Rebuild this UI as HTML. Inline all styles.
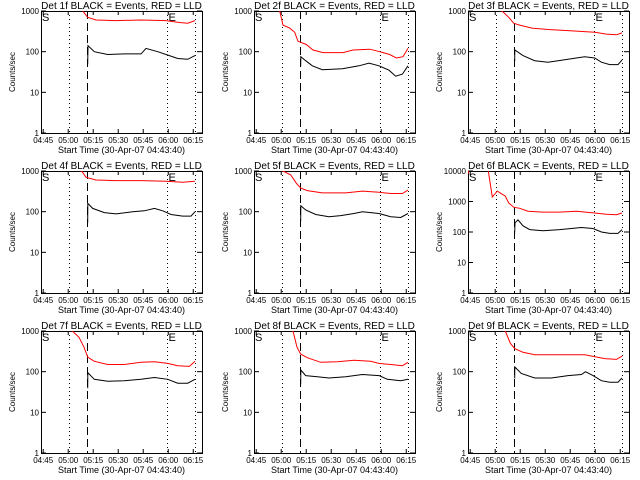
<!DOCTYPE html>
<html><head><meta charset="utf-8"><style>
html,body{margin:0;padding:0;background:#fff;}
svg{display:block;font-family:"Liberation Sans",sans-serif;}
</style></head><body>
<svg id="c" width="640" height="480" viewBox="0 0 640 480"></svg>
<script>
const detLabels = ["1f","2f","3f","4f","5f","6f","7f","8f","9f"];
const yMaxDecades = [3,3,3,3,3,4,3,3,3];
const xTickLabels = ["04:45","05:00","05:15","05:30","05:45","06:00","06:15"];
const xTickMinutes = [1.33,16.33,31.33,46.33,61.33,76.33,91.33];
const markerLines = [17,27.8,75.3,92.4];
const red1T=[0,24,25,28,33,45,60,75,83,88,92.4];
const red1V=[1500,1500,1000,700,600,580,600,580,520,500,580];
const blk1T=[27.8,28,28.2,32,40,50,60,63,70,77,82,88,92.4];
const blk1V=[50,50,140,100,85,88,88,120,100,80,68,65,80];
const red2T=[0,15.4,17.4,21.4,24.4,26.4,31.4,35.4,41.4,53.4,59.4,69.4,75.4,81.4,85.4,89.4,92.4];
const red2V=[1500,1000,450,380,300,180,150,110,95,95,110,115,100,85,70,75,120];
const blk2T=[27.8,28,28.1,31,35,41,53,63,69,75,81,85,89,92.4];
const blk2V=[45,45,75,60,45,36,38,45,52,45,35,25,28,45];
const red3T=[0,20.4,24.4,27.4,31,38.4,48,60,76,83,89,92.4];
const red3V=[1500,1000,700,500,450,380,350,330,300,270,260,290];
const blk3T=[27.8,28,28.1,33,40,48,60,70,76,80,85,90,92.4];
const blk3V=[60,60,110,80,60,55,65,75,70,55,48,48,62];
const red4T=[0,24.4,27,33,45,60,75,85,92.4];
const red4V=[1500,1000,700,600,580,580,560,530,560];
const blk4T=[27.8,28,28.1,31,38,45,55,62,68,73,78,85,90,92.4];
const blk4V=[55,55,160,120,95,88,100,105,120,105,85,78,78,100];
const red5T=[0,17.4,22,25.4,28,32,41,55,65,75,82,89,92.4];
const red5V=[1500,1000,800,500,380,330,290,290,320,300,280,280,340];
const blk5T=[27.8,28,28.1,31,37,45,52,60,65,75,82,88,92.4];
const blk5V=[60,60,140,110,85,75,80,90,100,90,75,72,90];
const red6T=[0,1,8,12.2,14.6,17.6,20,22.4,24.4,27.4,31,36,45,55,65,76,83,89,92.4];
const red6V=[8000,15000,15000,10000,1400,2200,1800,1500,900,650,600,480,450,450,480,420,380,370,420];
const blk6T=[27.8,28,28.2,30,33,37,45,55,68,75,80,85,90,92.4];
const blk6V=[100,100,200,250,160,120,110,120,140,130,100,90,90,120];
const red7T=[0,18.8,22.8,25.8,28,32,40,50,60,68,76,82,89,92.4];
const red7V=[1500,1000,700,400,230,180,150,150,170,175,160,140,135,180];
const blk7T=[27.8,28,28.1,32,40,50,60,68,76,82,88,92.4];
const blk7V=[40,40,95,65,58,60,65,72,65,52,52,65];
const red8T=[0,23.4,25.8,28,32,40,50,60,70,75,82,89,92.4];
const red8V=[1500,1000,400,270,220,170,175,190,180,160,150,140,170];
const blk8T=[27.8,28,28.1,31,38,45,55,65,75,80,88,92.4];
const blk8V=[50,50,110,80,75,70,75,85,80,65,60,65];
const red9T=[0,22.4,25.4,28,33,40,55,70,77,82,89,92.4];
const red9V=[1500,1000,500,370,300,260,260,260,230,210,200,240];
const blk9T=[27.8,28,28.1,32,40,50,60,68,70.5,75,80,85,90,92.4];
const blk9V=[70,70,130,90,70,70,80,85,100,80,60,55,55,70];
const redT=[red1T,red2T,red3T,red4T,red5T,red6T,red7T,red8T,red9T];
const redV=[red1V,red2V,red3V,red4V,red5V,red6V,red7V,red8V,red9V];
const blkT=[blk1T,blk2T,blk3T,blk4T,blk5T,blk6T,blk7T,blk8T,blk9T];
const blkV=[blk1V,blk2V,blk3V,blk4V,blk5V,blk6V,blk7V,blk8V,blk9V];

const NS="http://www.w3.org/2000/svg";
const svg=document.getElementById('c');
function mk(tag,attrs,parent){const e=document.createElementNS(NS,tag);for(const k in attrs)e.setAttribute(k,attrs[k]);parent.appendChild(e);return e;}
const defs=mk('defs',{},svg);
const W=161,H=122,TMAX=W/1.667;
for(let p=0;p<9;p++){
  const col=p%3,row=Math.floor(p/3);
  const L=Math.round(41+213.3*col),T=11+160*row;
  const nd=yMaxDecades[p];
  const xs=t=>L+t/TMAX*W;
  const ys=v=>T+H-Math.log10(v)/nd*H;
  const g=mk('g',{},svg);
  
  
  const cp=mk('clipPath',{id:'cp'+p},defs);
  mk('rect',{x:L,y:T,width:W,height:H},cp);
  const title=mk('text',{x:L+W/2,y:T-2,'text-anchor':'middle','font-size':'10'},g);
  title.textContent='Det '+detLabels[p]+' BLACK = Events, RED = LLD';
  
  
  const box=mk('rect',{x:L+0.5,y:T+0.5,width:W,height:H,fill:'none',stroke:'#000','stroke-width':1},g);
  
  
  for(let d=0;d<=nd;d++){
    const y=ys(Math.pow(10,d));
    mk('line',{x1:L,x2:L+5,y1:y,y2:y,stroke:'#000'},g);
    mk('line',{x1:L+W-5,x2:L+W,y1:y,y2:y,stroke:'#000'},g);
    const tl=mk('text',{x:L-2,y:y+3,'text-anchor':'end','font-size':'8'},g);
    tl.textContent=String(Math.pow(10,d));
    
    
  }
  for(let i=0;i<xTickLabels.length;i++){
    const x=xs(xTickMinutes[i]);
    mk('line',{x1:x,x2:x,y1:T+H,y2:T+H-4,stroke:'#000'},g);
    mk('line',{x1:x,x2:x,y1:T,y2:T+4,stroke:'#000'},g);
    const xl=mk('text',{x:x,y:T+H+10,'text-anchor':'middle','font-size':'8'},g);
    xl.textContent=xTickLabels[i];
    
    
  }
  const xt=mk('text',{x:L+W/2,y:T+H+20,'text-anchor':'middle','font-size':'9'},g);
  xt.textContent='Start Time (30-Apr-07 04:43:40)';
  
  
  const yt=mk('text',{x:0,y:0,'text-anchor':'middle','font-size':'8',transform:'translate('+(L-26)+','+(T+H/2)+') rotate(-90)'},g);
  yt.textContent='Counts/sec';
  
  
  markerLines.forEach((t,i)=>{
    const x=Math.round(xs(t))+0.5;
    const ln=mk('line',{x1:x,x2:x,y1:T,y2:T+H,stroke:'#000','stroke-dasharray':i==1?'8,4':'1,3'},g);
    
    
  });
  const s=mk('text',{x:L+1,y:T+10,'font-size':'11'},g);s.textContent='S';
  
  
  const e=mk('text',{x:xs(75.3)+2,y:T+10,'font-size':'11'},g);e.textContent='E';
  
  
  const path=(tt,vv)=>tt.map((t,i)=>(i?'L':'M')+xs(t).toFixed(1)+','+ys(vv[i]).toFixed(1)).join('');
  const r=mk('path',{d:path(redT[p],redV[p]),fill:'none',stroke:'#ff0000','stroke-width':1,'clip-path':'url(#cp'+p+')'},g);
  
  
  const b=mk('path',{d:path(blkT[p],blkV[p]),fill:'none',stroke:'#000','stroke-width':1,'clip-path':'url(#cp'+p+')'},g);
  
  
}
</script>
</body></html>
